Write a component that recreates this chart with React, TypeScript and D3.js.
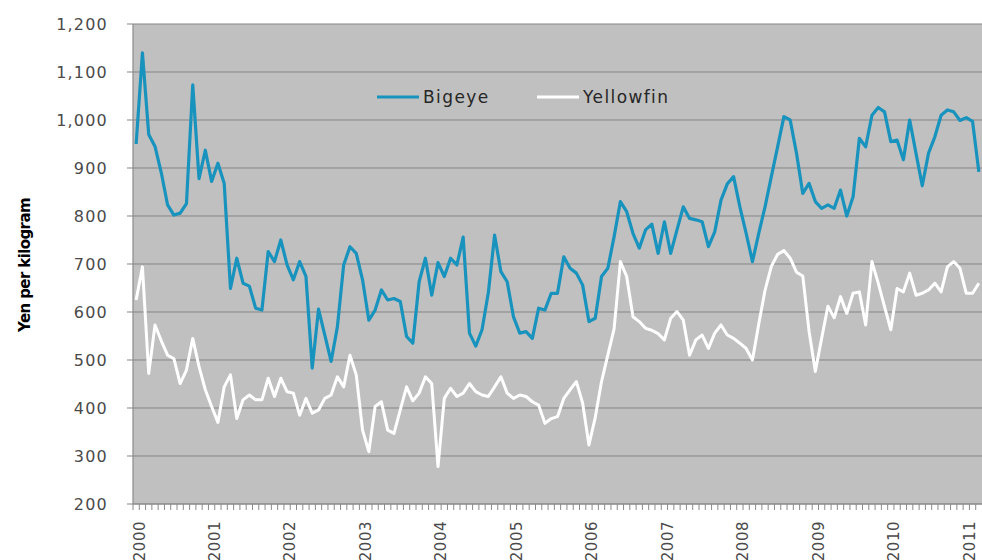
import React from "react";
import * as d3 from "d3";

const years = ["2000","2001","2002","2003","2004","2005","2006","2007","2008","2009","2010","2011"];
const monthsPerYear = 12;
const monthCount = 135;
const months: string[] = years
  .flatMap((y) => d3.range(monthsPerYear).map((m) => `${y}-${String(m + 1).padStart(2, "0")}`))
  .slice(0, monthCount);

const bigeye = [
  950,1140,970,945,890,823,802,806,826,1073,878,937,
  872,910,868,649,712,660,654,608,604,726,705,750,
  698,667,705,674,483,606,552,497,569,698,736,722,
  667,583,604,646,625,628,622,549,535,663,712,635,
  703,674,712,698,756,556,529,563,640,760,684,663,
  590,556,559,545,608,604,639,639,715,691,681,656,
  580,587,674,691,757,830,809,764,733,771,783,722,
  788,722,771,819,795,792,788,736,767,833,867,882,
  819,764,705,764,819,882,944,1007,1000,931,847,868,
  830,816,823,816,854,800,840,962,944,1010,1026,1017,
  955,958,917,1000,931,863,931,965,1010,1021,1017,999,
  1005,997,892,
];

const yellowfin = [
  625,694,472,573,540,510,503,451,479,545,486,438,
  403,370,444,469,378,417,427,417,417,462,424,462,
  434,431,385,420,389,396,420,427,465,444,510,469,
  354,309,403,413,354,347,396,444,415,431,465,451,
  278,420,441,424,431,451,434,427,424,444,465,431,
  420,427,424,413,406,368,378,382,420,438,455,410,
  323,380,455,510,565,705,674,590,580,566,562,555,
  542,587,601,583,510,542,552,524,556,573,552,545,
  535,524,500,575,645,695,720,728,712,683,675,560,
  476,545,612,588,632,597,639,642,573,705,660,611,
  563,649,642,681,635,639,646,660,642,694,705,691,
  639,639,660,
];

const yTicks = [200, 300, 400, 500, 600, 700, 800, 900, 1000, 1100, 1200];
const seriesNames = ["Bigeye", "Yellowfin"];
const seriesColors = ["#1893BD", "#FFFFFF"];

const W = 982;
const H = 560;
const left = 133;
const right = 982;
const top = 24;
const bottom = 504;

export default function App() {
  const x = d3.scaleBand<string>().domain(months).range([left, right]).paddingInner(0).paddingOuter(0);
  const y = d3.scaleLinear().domain([200, 1200]).range([bottom, top]);
  const cx = (m: string) => (x(m) as number) + x.bandwidth() / 2;
  const line = d3
    .line<number>()
    .x((_, i) => cx(months[i]))
    .y((v) => y(v));
  const fmt = d3.format(",");
  const font = "'DejaVu Sans', sans-serif";

  return (
    <svg
      width={W}
      height={H}
      viewBox={`0 0 ${W} ${H}`}
      style={{ position: "absolute", left: 0, top: 0, background: "#fff" }}
    >
      <rect x={left} y={top} width={right - left} height={bottom - top} fill="#C0C0C0" />
      {yTicks.map((t) => (
        <g key={t}>
          <line x1={left - 6} x2={right} y1={y(t)} y2={y(t)} stroke="#858585" strokeWidth={1} />
          <text
            x={108}
            y={y(t)}
            dy="0.36em"
            textAnchor="end"
            fontFamily={font}
            fontSize={16}
            letterSpacing={1.2}
            fill="#4a4a4a"
          >
            {fmt(t)}
          </text>
        </g>
      ))}
      <line x1={left} x2={left} y1={top} y2={bottom} stroke="#8a8a8a" strokeWidth={1.2} />
      <line x1={left} x2={right} y1={bottom} y2={bottom} stroke="#8a8a8a" strokeWidth={1.2} />
      {months.map((m) => (
        <line
          key={m}
          x1={x(m) as number}
          x2={x(m) as number}
          y1={bottom}
          y2={bottom + 6}
          stroke="#8a8a8a"
          strokeWidth={1}
        />
      ))}
      {years.map((yr) => {
        const m = `${yr}-01`;
        const px = cx(m) + 3;
        return (
          <text
            key={yr}
            transform={`translate(${px},${bottom + 17}) rotate(-90)`}
            textAnchor="end"
            dy="0.36em"
            fontFamily={font}
            fontSize={15}
            letterSpacing={0.5}
            fill="#4a4a4a"
          >
            {yr}
          </text>
        );
      })}
      <path d={line(yellowfin) ?? ""} fill="none" stroke={seriesColors[1]} strokeWidth={3} strokeLinejoin="round" />
      <path d={line(bigeye) ?? ""} fill="none" stroke={seriesColors[0]} strokeWidth={3.2} strokeLinejoin="round" />
      {seriesNames.map((name, i) => {
        const lx = i === 0 ? 377 : 537;
        return (
          <g key={name}>
            <line x1={lx} x2={lx + 42} y1={97} y2={97} stroke={seriesColors[i]} strokeWidth={3.2} />
            <text
              x={lx + 46}
              y={97}
              dy="0.36em"
              fontFamily={font}
              fontSize={17}
              letterSpacing={1.4}
              fill="#262626"
            >
              {name}
            </text>
          </g>
        );
      })}
      <text
        transform={`translate(25,265) rotate(-90)`}
        textAnchor="middle"
        dy="0.36em"
        fontFamily={font}
        fontWeight="bold"
        fontSize={15}
        letterSpacing={-0.6}
        fill="#000"
      >
        Yen per kilogram
      </text>
    </svg>
  );
}
